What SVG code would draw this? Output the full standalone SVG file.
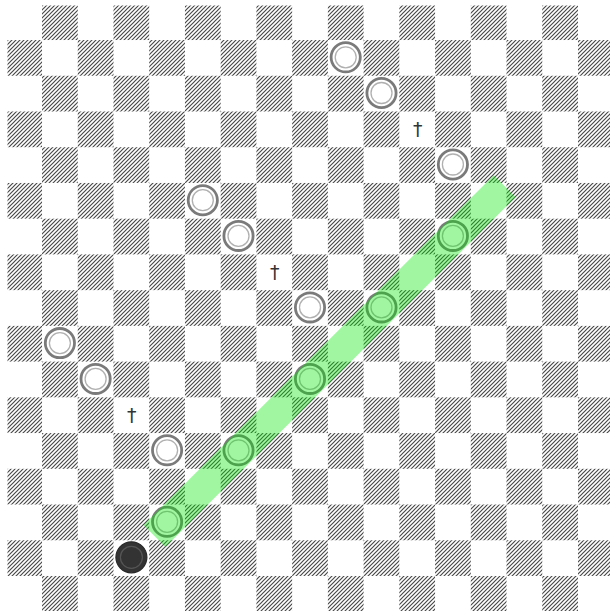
<svg xmlns="http://www.w3.org/2000/svg" width="610" height="611" viewBox="0 0 610 611">
  <defs>
    <pattern id="hatch" patternUnits="userSpaceOnUse" x="0" y="0" width="4" height="4">
      <path d="M-1,5 L5,-1 M-1,1 L1,-1 M3,5 L5,3" stroke="#484848" stroke-width="1.2" fill="none"/>
    </pattern>
    <pattern id="checker" patternUnits="userSpaceOnUse" x="6.3" y="4.3" width="71.46" height="71.46">
      <rect x="35.73" y="0" width="35.73" height="35.73" fill="#fff"/>
      <rect x="0" y="35.73" width="35.73" height="35.73" fill="#fff"/>
    </pattern>
    <mask id="dark-squares" maskUnits="userSpaceOnUse" x="0" y="0" width="610" height="611">
      <rect x="7.5" y="5.5" width="603" height="606" fill="url(#checker)"/>
    </mask>
    <g id="wp">
      <circle r="14.6" fill="#fff" stroke="#7a7a7a" stroke-width="2.8"/>
      <circle r="10.5" fill="none" stroke="#b0b0b0" stroke-width="1.3"/>
    </g>
    <g id="bp">
      <circle r="15.5" fill="#333" stroke="#2a2a2a" stroke-width="1.2"/>
      <circle r="11" fill="none" stroke="#555" stroke-width="1.2"/>
    </g>
  </defs>
  <style>
    .mark { font-family: "DejaVu Sans", sans-serif; font-size: 19px; fill: #333; text-anchor: middle; }
  </style>
  <rect width="610" height="611" fill="#fff"/>
  <g id="board-squares">
    <rect x="0" y="0" width="610" height="611" fill="url(#hatch)" mask="url(#dark-squares)"/>
  </g>
  <g id="pieces">
    <use id="piece-w-9-1" href="#wp" x="345.7" y="57.3"/>
    <use id="piece-w-10-2" href="#wp" x="381.5" y="93"/>
    <use id="piece-w-12-4" href="#wp" x="452.9" y="164.5"/>
    <use id="piece-w-5-5" href="#wp" x="202.8" y="200.2"/>
    <use id="piece-w-6-6" href="#wp" x="238.5" y="235.9"/>
    <use id="piece-w-8-8" href="#wp" x="310" y="307.4"/>
    <use id="piece-w-1-9" href="#wp" x="59.9" y="343.1"/>
    <use id="piece-w-2-10" href="#wp" x="95.6" y="378.9"/>
    <use id="piece-w-4-12" href="#wp" x="167.1" y="450.3"/>
    <use id="piece-w-4-14" href="#wp" x="167.1" y="521.8"/>
    <use id="piece-w-6-12" href="#wp" x="238.5" y="450.3"/>
    <use id="piece-w-8-10" href="#wp" x="310" y="378.9"/>
    <use id="piece-w-10-8" href="#wp" x="381.5" y="307.4"/>
    <use id="piece-w-12-6" href="#wp" x="452.9" y="235.9"/>
    <use id="piece-b-3-15" href="#bp" x="131.4" y="557.3"/>
  </g>
  <g id="marks">
    <text class="mark" x="417.8" y="136">†</text>
    <text class="mark" x="274.8" y="279">†</text>
    <text class="mark" x="131.8" y="422">†</text>
  </g>
  <g id="connectors">
    <line id="highlight" x1="154.5" y1="536" x2="504.7" y2="186.2" stroke="#00e600" stroke-opacity="0.37" stroke-width="31"/>
  </g>
</svg>
